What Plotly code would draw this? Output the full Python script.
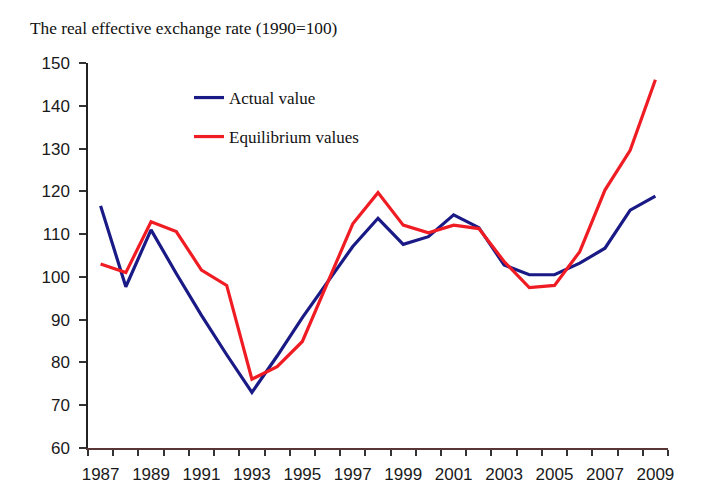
import plotly.graph_objects as go

years = list(range(1987, 2010))
actual = [116.6, 97.7, 111.0, 100.8, 91.0, 81.8, 73.0, 81.5, 90.5, 98.8, 107.1, 113.7,
          107.6, 109.4, 114.5, 111.5, 102.8, 100.5, 100.5, 103.2, 106.7, 115.6, 118.9]
equilibrium = [103.0, 101.0, 112.9, 110.6, 101.6, 98.0, 76.1, 79.0, 84.9, 98.5, 112.4, 119.7,
               112.1, 110.3, 112.1, 111.3, 103.6, 97.5, 98.0, 105.9, 120.3, 129.6, 146.1]
xtick_labels = [str(y) for y in range(1987, 2010, 2)]
ytick_vals = list(range(60, 151, 10))

title_text = "The real effective exchange rate (1990=100)"

W, H = 709, 492
L, R, T, B = 88, 41, 63, 44

fig = go.Figure()
fig.add_trace(go.Scatter(x=years, y=actual, mode="lines", name="Actual value",
                         line=dict(color="#1a1a86", width=3.2), legend="legend"))
fig.add_trace(go.Scatter(x=years, y=equilibrium, mode="lines", name="Equilibrium values",
                         line=dict(color="#f01c24", width=3.2), legend="legend2"))

pw = W - L - R
ph = H - T - B

def px_x(p):
    return (p - L) / pw

def px_y(p):
    return (H - B - p) / ph

serif = "Liberation Serif, Times New Roman, serif"
sans = "Liberation Sans, Arial, sans-serif"

fig.update_layout(
    width=W, height=H,
    margin=dict(l=L, r=R, t=T, b=B, autoexpand=False),
    paper_bgcolor="white", plot_bgcolor="white",
    showlegend=True,
    legend=dict(x=px_x(189), y=px_y(98), xanchor="left", yanchor="middle",
                bgcolor="rgba(0,0,0,0)", font=dict(family=serif, size=17, color="#111")),
    legend2=dict(x=px_x(189), y=px_y(137), xanchor="left", yanchor="middle",
                 bgcolor="rgba(0,0,0,0)", font=dict(family=serif, size=17, color="#111")),
    xaxis=dict(range=[1986.5, 2009.5], tickmode="array",
               tickvals=list(range(1987, 2010, 2)), ticktext=xtick_labels,
               ticks="", showline=True, linecolor="#5a3535", linewidth=1.5,
               showgrid=False, zeroline=False, ticklabelstandoff=10, automargin=False,
               tickfont=dict(family=sans, size=17, color="#1a1a1a"),
               minor=dict(tickmode="linear", tick0=1986.5, dtick=1, ticks="outside",
                          ticklen=6, tickwidth=1.5, tickcolor="#333", showgrid=False)),
    yaxis=dict(range=[60, 150], tickmode="array", tickvals=ytick_vals,
               ticks="outside", ticklen=7, tickwidth=1.5, tickcolor="#333",
               showline=True, linecolor="#222", linewidth=1.5, automargin=False,
               showgrid=False, zeroline=False, ticklabelstandoff=6,
               tickfont=dict(family=sans, size=17, color="#1a1a1a")),
    annotations=[dict(text=title_text, xref="paper", yref="paper",
                      x=px_x(28), y=px_y(29), xanchor="left", yanchor="middle",
                      showarrow=False, font=dict(family=serif, size=17.3, color="#111"))],
)

fig.write_html("out.html")
